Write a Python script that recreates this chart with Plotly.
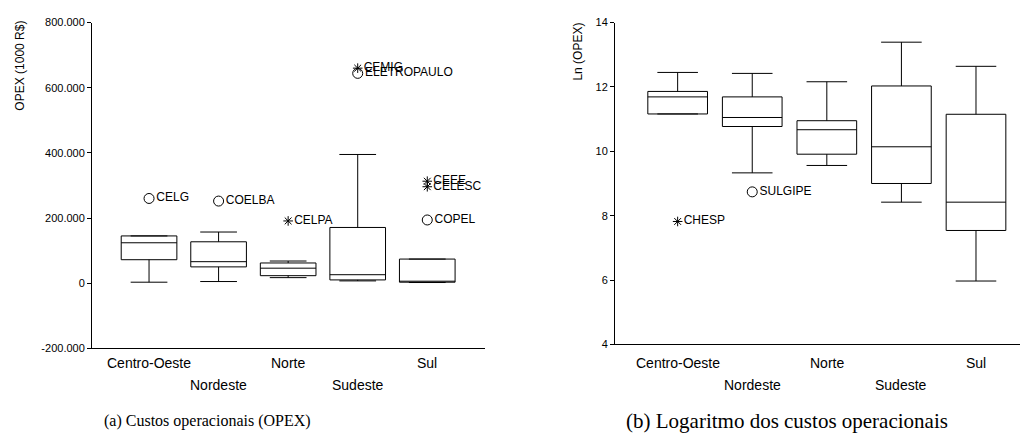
import plotly.graph_objects as go

W, H = 1025, 437

regions = ["Centro-Oeste", "Nordeste", "Norte", "Sudeste", "Sul"]

# Panel (a): OPEX (1000 R$)
opex_low = [3000, 5000, 17000, 7000, 2000]
opex_q1 = [72000, 50000, 23000, 10000, 3000]
opex_median = [124000, 66000, 46000, 26000, 4000]
opex_q3 = [145000, 127000, 62000, 171000, 74000]
opex_high = [145000, 157000, 68000, 395000, 74000]

opex_out_names = ["CELG", "COELBA", "CELPA", "CEMIG", "ELETROPAULO", "CEEE", "CELESC", "COPEL"]
opex_out_region = [0, 1, 2, 3, 3, 4, 4, 4]
opex_out_value = [260000, 252000, 191000, 660000, 644000, 313000, 296000, 194000]
opex_out_extreme = [False, False, True, True, False, True, True, False]

opex_ticks = [-200000, 0, 200000, 400000, 600000, 800000]
opex_ticktext = ["-200.000", "0", "200.000", "400.000", "600.000", "800.000"]

# Panel (b): Ln(OPEX)
ln_low = [11.16, 9.33, 9.56, 8.42, 5.97]
ln_q1 = [11.16, 10.77, 9.91, 9.00, 7.54]
ln_median = [11.69, 11.05, 10.67, 10.14, 8.42]
ln_q3 = [11.86, 11.69, 10.95, 12.03, 11.15]
ln_high = [12.45, 12.42, 12.16, 13.39, 12.64]

ln_out_names = ["CHESP", "SULGIPE"]
ln_out_region = [0, 1]
ln_out_value = [7.82, 8.74]
ln_out_extreme = [True, False]

ln_ticks = [4, 6, 8, 10, 12, 14]

captions = ["(a) Custos operacionais (OPEX)", "(b) Logaritmo dos custos operacionais"]
ytitles = ["OPEX (1000 R$)", "Ln (OPEX)"]

SANS = "Liberation Sans, Arial, sans-serif"
SERIF = "Liberation Serif, Times New Roman, serif"


def px(x):
    return x / W


def py(y):
    return 1 - y / H


fig = go.Figure()

pos = list(range(len(regions)))

fig.add_trace(go.Box(
    x=pos, q1=opex_q1, median=opex_median, q3=opex_q3,
    lowerfence=opex_low, upperfence=opex_high,
    width=0.8, whiskerwidth=0.66, boxpoints=False,
    line=dict(color="black", width=1), fillcolor="rgba(255,255,255,0)",
    xaxis="x", yaxis="y", showlegend=False, hoverinfo="skip"))

fig.add_trace(go.Box(
    x=pos, q1=ln_q1, median=ln_median, q3=ln_q3,
    lowerfence=ln_low, upperfence=ln_high,
    width=0.8, whiskerwidth=0.68, boxpoints=False,
    line=dict(color="black", width=1), fillcolor="rgba(255,255,255,0)",
    xaxis="x2", yaxis="y2", showlegend=False, hoverinfo="skip"))


def add_outliers(names, reg, vals, extreme, xa, ya):
    for flag, sym, size in [(False, "circle-open", 10), (True, "asterisk-open", 8)]:
        idx = [i for i in range(len(names)) if extreme[i] == flag]
        if not idx:
            continue
        fig.add_trace(go.Scatter(
            x=[reg[i] for i in idx], y=[vals[i] for i in idx],
            text=[names[i] for i in idx], mode="markers+text",
            textposition="middle right",
            textfont=dict(family=SANS, size=12, color="black"),
            marker=dict(symbol=sym, size=size, color="black", line=dict(width=1, color="black")),
            xaxis=xa, yaxis=ya, showlegend=False, hoverinfo="skip"))


add_outliers(opex_out_names, opex_out_region, opex_out_value, opex_out_extreme, "x", "y")
add_outliers(ln_out_names, ln_out_region, ln_out_value, ln_out_extreme, "x2", "y2")

axis_common = dict(showgrid=False, zeroline=False, showline=True, linecolor="black", linewidth=1)

fig.update_layout(
    width=W, height=H,
    margin=dict(l=0, r=0, t=0, b=0),
    paper_bgcolor="white", plot_bgcolor="white",
    font=dict(family=SANS, color="black"),
    xaxis=dict(domain=[px(92), px(485)], range=[-0.82, 4.83], showticklabels=False,
               ticks="", anchor="y", **axis_common),
    yaxis=dict(domain=[py(352), py(17)], range=[-200000, 800000], tickvals=opex_ticks,
               ticktext=opex_ticktext, ticks="outside", ticklen=4, tickcolor="black",
               tickfont=dict(family=SANS, size=11, color="black"), anchor="x", **axis_common),
    xaxis2=dict(domain=[px(615), px(1020)], range=[-0.84, 4.59], showticklabels=False,
                ticks="", anchor="y2", **axis_common),
    yaxis2=dict(domain=[py(348), py(17)], range=[4, 14], tickvals=ln_ticks,
                ticks="outside", ticklen=4, tickcolor="black",
                tickfont=dict(family=SANS, size=11, color="black"), anchor="x2", **axis_common),
)

annotations = []
for xa in ["x", "x2"]:
    for i, name in enumerate(regions):
        yy = py(367) if i % 2 == 0 else py(390)
        annotations.append(dict(x=i, y=yy, xref=xa, yref="paper", text=name, showarrow=False,
                                xanchor="center", yanchor="middle",
                                font=dict(family=SANS, size=14, color="black")))

annotations.append(dict(x=px(20), y=py(13), xref="paper", yref="paper", text=ytitles[0],
                        textangle=-90, showarrow=False, xanchor="center", yanchor="top",
                        font=dict(family=SANS, size=12, color="black")))
annotations.append(dict(x=px(578), y=py(15), xref="paper", yref="paper", text=ytitles[1],
                        textangle=-90, showarrow=False, xanchor="center", yanchor="top",
                        font=dict(family=SANS, size=12, color="black")))

annotations.append(dict(x=px(207), y=py(427), xref="paper", yref="paper", text=captions[0],
                        showarrow=False, xanchor="center", yanchor="middle",
                        font=dict(family=SERIF, size=16, color="black")))
annotations.append(dict(x=px(787), y=py(427), xref="paper", yref="paper", text=captions[1],
                        showarrow=False, xanchor="center", yanchor="middle",
                        font=dict(family=SERIF, size=21, color="black")))

fig.update_layout(annotations=annotations)

fig.write_html("out.html")
